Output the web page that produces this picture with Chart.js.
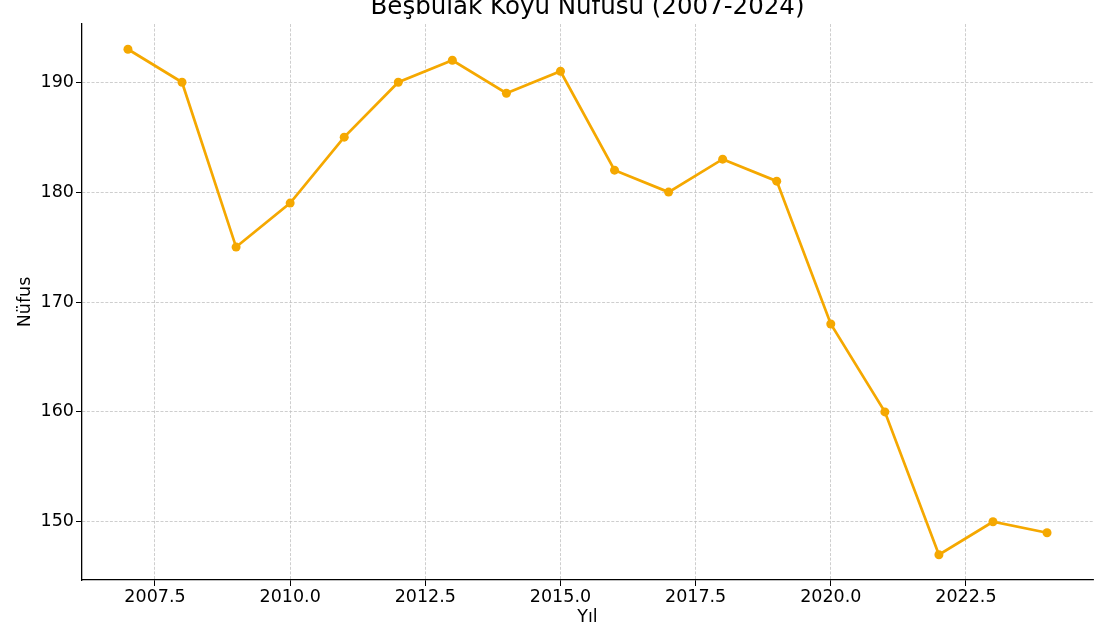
<!DOCTYPE html>
<html>
<head>
<meta charset="utf-8">
<script src="https://cdn.jsdelivr.net/npm/chart.js@4/dist/chart.umd.min.js"></script>
<style>
html,body{margin:0;padding:0;background:#fff;}
#wrap{width:1110px;height:625px;position:relative;}
</style>
</head>
<body>
<div id="wrap"><canvas id="c" width="1110" height="625"></canvas></div>
<script>
const years = [2007,2008,2009,2010,2011,2012,2013,2014,2015,2016,2017,2018,2019,2020,2021,2022,2023,2024];
const population = [193,190,175,179,185,190,192,189,191,182,180,183,181,168,160,147,150,149];
const xTicks = [2007.5,2010.0,2012.5,2015.0,2017.5,2020.0,2022.5];
const yTicks = [150,160,170,180,190];
const titleText = 'Beşbulak Köyü Nüfusu (2007-2024)';
const xLabel = 'Yıl';
const yLabel = 'Nüfus';

const FONT = "'DejaVu Sans', sans-serif";
const LINE_COLOR = '#f5a800';

const textPlugin = {
  id: 'texts',
  afterDraw(chart) {
    const ctx = chart.ctx;
    const a = chart.chartArea;
    ctx.save();
    ctx.fillStyle = '#000';
    ctx.font = "24.5px " + FONT;
    ctx.textAlign = 'center';
    ctx.textBaseline = 'alphabetic';
    ctx.fillText(titleText, (a.left + a.right) / 2, 14);
    ctx.font = "17.5px " + FONT;
    ctx.textBaseline = 'middle';
    ctx.fillText(xLabel, (a.left + a.right) / 2, 617);
    ctx.translate(25, (a.top + a.bottom) / 2);
    ctx.rotate(-Math.PI / 2);
    ctx.fillText(yLabel, 0, 0);
    ctx.restore();
  }
};

const gridOpts = {
  color: '#c2c2c2',
  lineWidth: 0.8,
  tickColor: '#000',
  tickLength: 6,
  tickWidth: 1,
  tickBorderDash: []
};
const borderOpts = {display: true, color: '#000', width: 1.3, dash: [3, 1.6]};

new Chart(document.getElementById('c'), {
  type: 'line',
  data: {
    datasets: [{
      data: years.map((y, i) => ({x: y, y: population[i]})),
      borderColor: LINE_COLOR,
      backgroundColor: LINE_COLOR,
      borderWidth: 2.7,
      pointRadius: 4.5,
      pointHoverRadius: 4.5,
      pointBorderWidth: 0,
      tension: 0,
      fill: false
    }]
  },
  options: {
    responsive: false,
    animation: false,
    devicePixelRatio: 1,
    layout: {padding: {top: 24, right: 17, left: 0, bottom: 0}},
    plugins: {legend: {display: false}, tooltip: {enabled: false}, title: {display: false}},
    scales: {
      x: {
        type: 'linear',
        min: 2006.15,
        max: 2024.85,
        afterBuildTicks(s) { s.ticks = xTicks.map(v => ({value: v})); },
        afterFit(s) { s.height = 45; },
        ticks: {
          color: '#000',
          font: {family: FONT, size: 17.5},
          padding: 1,
          maxRotation: 0,
          autoSkip: false,
          callback: v => Number(v).toFixed(1)
        },
        grid: gridOpts,
        border: borderOpts
      },
      y: {
        min: 144.7,
        max: 195.3,
        afterBuildTicks(s) { s.ticks = yTicks.map(v => ({value: v})); },
        afterFit(s) { s.width = 82; },
        ticks: {
          color: '#000',
          font: {family: FONT, size: 17.5},
          padding: 2,
          autoSkip: false,
          callback: v => String(v)
        },
        grid: gridOpts,
        border: borderOpts
      }
    }
  },
  plugins: [textPlugin]
});
</script>
</body>
</html>
